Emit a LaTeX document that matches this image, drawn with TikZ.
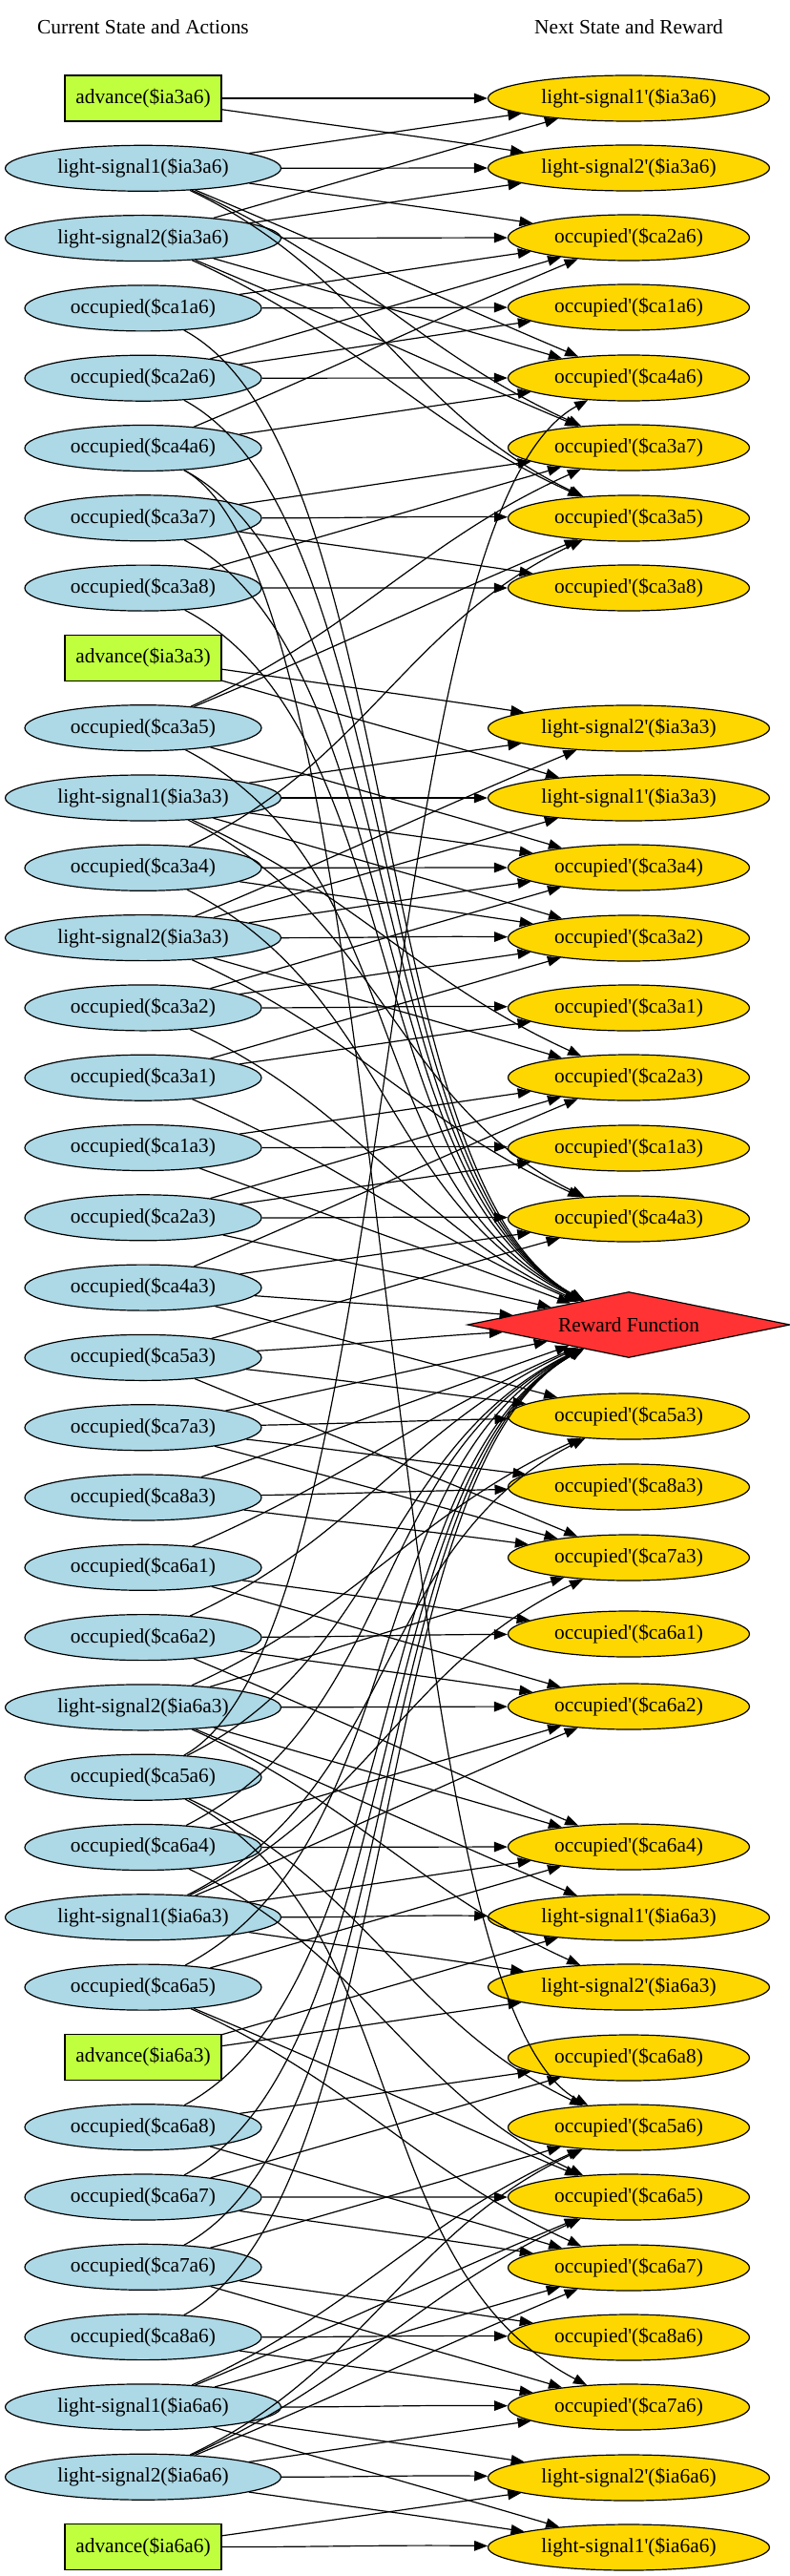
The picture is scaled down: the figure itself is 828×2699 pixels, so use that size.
\documentclass[tikz,border=0pt]{standalone}
\usepackage{fontspec}
\newfontfamily\gv{Liberation Serif}
\usetikzlibrary{shapes.geometric,arrows.meta}
\definecolor{lb}{RGB}{173,216,230}
\definecolor{gd}{RGB}{255,215,0}
\definecolor{ag}{RGB}{192,255,62}
\definecolor{rd}{RGB}{255,51,51}
\newcommand\Lnode[4]{\pgfmathsetmacro\myYY{103+(#2-1)*73.3}\expandafter\xdef\csname ny@#1\endcsname{\myYY}\node[#3] (#1) at (150,-\myYY) {#4};}
\newcommand\Rnode[4]{\expandafter\xdef\csname ny@#1\endcsname{#2}\node[#3] (#1) at (659,-#2) {#4};}
\newcommand\E[2]{%
 \pgfmathsetmacro\myDy{\csname ny@#1\endcsname-\csname ny@#2\endcsname}%
 \pgfmathsetmacro\myAng{atan2(\myDy,509)}%
 \pgfmathsetmacro\myK{max(0.35,min(1,150/max(1,abs(\myDy))+0.3))}%
 \pgfmathsetmacro\myAo{\myAng*\myK}%
 \pgfmathsetmacro\myAi{180+\myAng*\myK}%
 \pgfmathsetmacro\myLo{min(1,2.6/(0.39*sqrt(6.76+(\myDy/100)^2)))}%
 \draw[conn] (#1) to[out=\myAo,in=\myAi,looseness=\myLo] (#2);}
\tikzset{
 base/.style={draw, line width=0.4pt, inner sep=0pt, minimum height=16pt},
 occL/.style={base, ellipse, fill=lb, minimum width=82.67pt},
 lsL/.style={base, ellipse, fill=lb, minimum width=96.33pt},
 act/.style={base, rectangle, fill=ag, minimum width=54.67pt},
 occR/.style={base, ellipse, fill=gd, minimum width=84.33pt},
 lsR/.style={base, ellipse, fill=gd, minimum width=98.33pt},
 rew/.style={draw, line width=0.4pt, diamond, aspect=4.9, fill=rd, inner sep=0pt, minimum width=112.67pt, minimum height=23pt},
 conn/.style={line width=0.4pt, -{Triangle[length=4.67pt,width=3.5pt]}},
 ttl/.style={inner sep=0pt}
}
\begin{document}
\begin{tikzpicture}[x=0.33333pt,y=0.33333pt,font=\gv\fontsize{7.13pt}{8.3pt}\selectfont]
\useasboundingbox (0,0) rectangle (828,-2699);
\node[ttl] (t1) at (150,-28) {Current State and Actions};
\node[ttl] (t2) at (659,-28) {Next State and Reward};
% left column
\Lnode{Aa36}{1}{act}{advance(\$ia3a6)}
\Lnode{L1a36}{2}{lsL}{light-signal1(\$ia3a6)}
\Lnode{L2a36}{3}{lsL}{light-signal2(\$ia3a6)}
\Lnode{o16}{4}{occL}{occupied(\$ca1a6)}
\Lnode{o26}{5}{occL}{occupied(\$ca2a6)}
\Lnode{o46}{6}{occL}{occupied(\$ca4a6)}
\Lnode{o37}{7}{occL}{occupied(\$ca3a7)}
\Lnode{o38}{8}{occL}{occupied(\$ca3a8)}
\Lnode{Aa33}{9}{act}{advance(\$ia3a3)}
\Lnode{o35}{10}{occL}{occupied(\$ca3a5)}
\Lnode{L1a33}{11}{lsL}{light-signal1(\$ia3a3)}
\Lnode{o34}{12}{occL}{occupied(\$ca3a4)}
\Lnode{L2a33}{13}{lsL}{light-signal2(\$ia3a3)}
\Lnode{o32}{14}{occL}{occupied(\$ca3a2)}
\Lnode{o31}{15}{occL}{occupied(\$ca3a1)}
\Lnode{o13}{16}{occL}{occupied(\$ca1a3)}
\Lnode{o23}{17}{occL}{occupied(\$ca2a3)}
\Lnode{o43}{18}{occL}{occupied(\$ca4a3)}
\Lnode{o53}{19}{occL}{occupied(\$ca5a3)}
\Lnode{o73}{20}{occL}{occupied(\$ca7a3)}
\Lnode{o83}{21}{occL}{occupied(\$ca8a3)}
\Lnode{o61}{22}{occL}{occupied(\$ca6a1)}
\Lnode{o62}{23}{occL}{occupied(\$ca6a2)}
\Lnode{L2a63}{24}{lsL}{light-signal2(\$ia6a3)}
\Lnode{o56}{25}{occL}{occupied(\$ca5a6)}
\Lnode{o64}{26}{occL}{occupied(\$ca6a4)}
\Lnode{L1a63}{27}{lsL}{light-signal1(\$ia6a3)}
\Lnode{o65}{28}{occL}{occupied(\$ca6a5)}
\Lnode{Aa63}{29}{act}{advance(\$ia6a3)}
\Lnode{o68}{30}{occL}{occupied(\$ca6a8)}
\Lnode{o67}{31}{occL}{occupied(\$ca6a7)}
\Lnode{o76}{32}{occL}{occupied(\$ca7a6)}
\Lnode{o86}{33}{occL}{occupied(\$ca8a6)}
\Lnode{L1a66}{34}{lsL}{light-signal1(\$ia6a6)}
\Lnode{L2a66}{35}{lsL}{light-signal2(\$ia6a6)}
\Lnode{Aa66}{36}{act}{advance(\$ia6a6)}
% right column
\Rnode{PL1a36}{103}{lsR}{light-signal1'(\$ia3a6)}
\Rnode{PL2a36}{176}{lsR}{light-signal2'(\$ia3a6)}
\Rnode{p26}{249}{occR}{occupied'(\$ca2a6)}
\Rnode{p16}{322}{occR}{occupied'(\$ca1a6)}
\Rnode{p46}{396}{occR}{occupied'(\$ca4a6)}
\Rnode{p37}{469}{occR}{occupied'(\$ca3a7)}
\Rnode{p35}{543}{occR}{occupied'(\$ca3a5)}
\Rnode{p38}{616}{occR}{occupied'(\$ca3a8)}
\Rnode{PL2a33}{763}{lsR}{light-signal2'(\$ia3a3)}
\Rnode{PL1a33}{836}{lsR}{light-signal1'(\$ia3a3)}
\Rnode{p34}{909}{occR}{occupied'(\$ca3a4)}
\Rnode{p32}{983}{occR}{occupied'(\$ca3a2)}
\Rnode{p31}{1056}{occR}{occupied'(\$ca3a1)}
\Rnode{p23}{1129}{occR}{occupied'(\$ca2a3)}
\Rnode{p13}{1203}{occR}{occupied'(\$ca1a3)}
\Rnode{p43}{1277}{occR}{occupied'(\$ca4a3)}
\Rnode{R}{1388}{rew}{Reward Function}
\Rnode{p53}{1484}{occR}{occupied'(\$ca5a3)}
\Rnode{p83}{1558}{occR}{occupied'(\$ca8a3)}
\Rnode{p73}{1632}{occR}{occupied'(\$ca7a3)}
\Rnode{p61}{1712}{occR}{occupied'(\$ca6a1)}
\Rnode{p62}{1788}{occR}{occupied'(\$ca6a2)}
\Rnode{p64}{1935}{occR}{occupied'(\$ca6a4)}
\Rnode{PL1a63}{2009}{lsR}{light-signal1'(\$ia6a3)}
\Rnode{PL2a63}{2082}{lsR}{light-signal2'(\$ia6a3)}
\Rnode{p68}{2156}{occR}{occupied'(\$ca6a8)}
\Rnode{p56}{2229}{occR}{occupied'(\$ca5a6)}
\Rnode{p65}{2302}{occR}{occupied'(\$ca6a5)}
\Rnode{p67}{2376}{occR}{occupied'(\$ca6a7)}
\Rnode{p86}{2449}{occR}{occupied'(\$ca8a6)}
\Rnode{p76}{2522}{occR}{occupied'(\$ca7a6)}
\Rnode{PL2a66}{2596}{lsR}{light-signal2'(\$ia6a6)}
\Rnode{PL1a66}{2669}{lsR}{light-signal1'(\$ia6a6)}
% light signal edges
\foreach \i in {a36,a33,a63,a66}{
  \foreach \s in {A\i,L1\i,L2\i}{
    \E{\s}{PL1\i}
    \E{\s}{PL2\i}
  }
}
% cell edges
\foreach \s/\d in {o16/p16,o26/p16,o31/p31,o32/p31,o13/p13,o23/p13,o61/p61,o62/p61,
 o16/p26,o26/p26,o46/p26,L1a36/p26,L2a36/p26,
 o46/p56,o56/p56,o76/p56,L1a66/p56,L2a66/p56,
 o31/p32,o32/p32,o34/p32,L1a33/p32,L2a33/p32,
 o34/p35,o35/p35,o37/p35,L1a36/p35,L2a36/p35,
 o13/p23,o23/p23,o43/p23,L1a33/p23,L2a33/p23,
 o43/p53,o53/p53,o73/p53,L1a63/p53,L2a63/p53,
 o61/p62,o62/p62,o64/p62,L1a63/p62,L2a63/p62,
 o64/p65,o65/p65,o67/p65,L1a66/p65,L2a66/p65,
 o26/p46,o46/p46,o56/p46,L1a36/p46,L2a36/p46,
 o35/p37,o37/p37,o38/p37,L1a36/p37,L2a36/p37,
 o32/p34,o34/p34,o35/p34,L1a33/p34,L2a33/p34,
 o23/p43,o43/p43,o53/p43,L1a33/p43,L2a33/p43,
 o53/p73,o73/p73,o83/p73,L1a63/p73,L2a63/p73,
 o62/p64,o64/p64,o65/p64,L1a63/p64,L2a63/p64,
 o56/p76,o76/p76,o86/p76,L1a66/p76,L2a66/p76,
 o65/p67,o67/p67,o68/p67,L1a66/p67,L2a66/p67,
 o37/p38,o38/p38,o76/p86,o86/p86,o73/p83,o83/p83,o67/p68,o68/p68}{
  \E{\s}{\d}
}
% reward edges
\foreach \s in {o16,o26,o46,o37,o38,o35,o34,o32,o31,o13,o23,o43,o53,o73,o83,o61,o62,o56,o64,o65,o68,o67,o76,o86}{
  \E{\s}{R}
}
\end{tikzpicture}
\end{document}
